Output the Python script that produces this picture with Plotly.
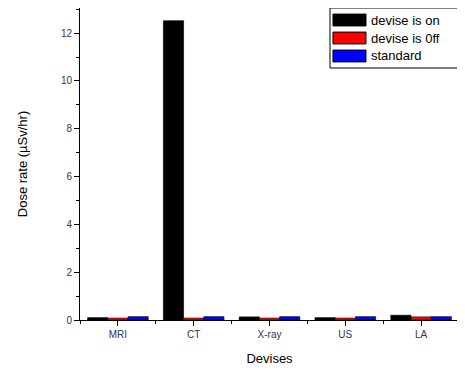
import plotly.graph_objects as go

categories = ["MRI", "CT", "X-ray", "US", "LA"]
on_vals = [0.10, 12.52, 0.13, 0.10, 0.20]
off_vals = [0.08, 0.08, 0.08, 0.08, 0.13]
std_vals = [0.14, 0.14, 0.14, 0.14, 0.14]
series_names = ["devise is on", "devise is 0ff", "standard"]
colors = ["#000000", "#ff0000", "#0000ff"]

fig = go.Figure()
for name, vals, c in zip(series_names, [on_vals, off_vals, std_vals], colors):
    fig.add_trace(go.Bar(
        x=list(range(1, len(categories) + 1)), y=vals, name=name,
        marker=dict(color=c, line=dict(color="#000000", width=0.6)),
        showlegend=False,
    ))

# manual legend (wide swatches like the original)
shapes = [dict(type="rect", xref="paper", yref="paper", x0=0.6596, x1=1.0, y0=0.8077, y1=1.0,
               line=dict(color="#000000", width=1), fillcolor="white", layer="above")]
annotations = []
row_y = [0.9615, 0.9038, 0.8462]
for name, c, yy in zip(series_names, colors, row_y):
    shapes.append(dict(type="rect", xref="paper", yref="paper", x0=0.6675, x1=0.7546,
                       y0=yy - 0.019, y1=yy + 0.019, fillcolor=c,
                       line=dict(color="#000000", width=1), layer="above"))
    annotations.append(dict(xref="paper", yref="paper", x=0.7625, y=yy, text=name,
                            showarrow=False, xanchor="left", yanchor="middle",
                            font=dict(size=13, color="#000000")))

fig.update_layout(
    width=457, height=369,
    margin=dict(l=72, r=6, t=0, b=57, pad=0),
    paper_bgcolor="white", plot_bgcolor="white",
    barmode="group", bargap=0.2, bargroupgap=0,
    font=dict(family="Arial, Liberation Sans", size=10, color="#000000"),
    showlegend=False,
    shapes=shapes, annotations=annotations,
    xaxis=dict(
        range=[0.5, 5.5], tickmode="array", automargin=False,
        tickvals=list(range(1, len(categories) + 1)), ticktext=categories,
        ticks="outside", ticklen=5, tickcolor="#000000",
        minor=dict(tickvals=[0.5, 1.5, 2.5, 3.5, 4.5, 5.5], ticks="outside", ticklen=3, tickcolor="#000000"),
        showline=True, linecolor="#000000", linewidth=1, mirror=True,
        showgrid=False, zeroline=False,
        tickfont=dict(size=10, color="#333355"),
        title=dict(text="Devises", font=dict(size=13), standoff=14),
    ),
    yaxis=dict(
        range=[0, 13.05], tickmode="array", tickvals=[0, 2, 4, 6, 8, 10, 12], automargin=False,
        ticks="outside", ticklen=5, tickcolor="#000000",
        minor=dict(tickvals=[1, 3, 5, 7, 9, 11, 13], ticks="outside", ticklen=3, tickcolor="#000000"),
        showline=True, linecolor="#000000", linewidth=1, mirror=True,
        showgrid=False, zeroline=False,
        tickfont=dict(size=10, color="#333355"),
        title=dict(text="Dose rate (µSv/hr)", font=dict(size=13), standoff=30),
    ),
)

fig.write_html("out.html")
